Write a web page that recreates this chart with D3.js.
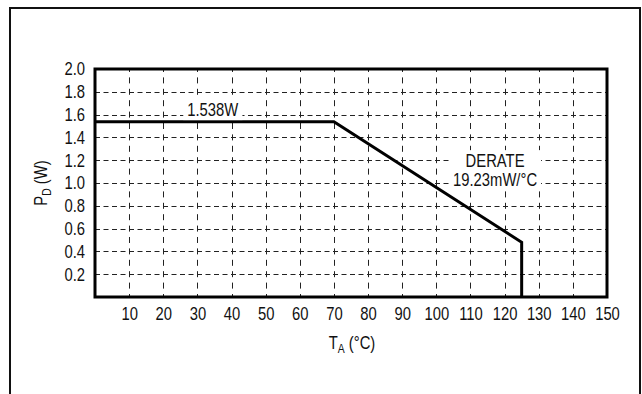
<!DOCTYPE html>
<html>
<head>
<meta charset="utf-8">
<script src="https://cdn.jsdelivr.net/npm/d3@7"></script>
<style>
  body { margin: 0; background: #fff; }
  svg text { font-family: "Liberation Sans", Arial, sans-serif; fill: #111; }
</style>
</head>
<body>
<script>
// Derating curve: power dissipation vs ambient temperature
const tempC = [0, 70, 125, 125];
const powerW = [1.538, 1.538, 0.480, 0];

// Tick labels
const xTicks = [10, 20, 30, 40, 50, 60, 70, 80, 90, 100, 110, 120, 130, 140, 150];
const yTicks = [0.2, 0.4, 0.6, 0.8, 1.0, 1.2, 1.4, 1.6, 1.8, 2.0];

const W = 642, H = 394;
const plot = { left: 95, right: 607, top: 69, bottom: 297 };
const fs = "18.5px";
const narrow = 0.8; // condensed look of the original typeface

const svg = d3.select("body").append("svg")
    .attr("width", W)
    .attr("height", H);

// outer frame (bottom edge runs off the picture)
svg.append("rect")
    .attr("x", 10).attr("y", 8)
    .attr("width", 630).attr("height", 400)
    .attr("fill", "none")
    .attr("stroke", "#111")
    .attr("stroke-width", 2);

const x = d3.scaleLinear().domain([0, 150]).range([plot.left, plot.right]);
const y = d3.scaleLinear().domain([0, 2]).range([plot.bottom, plot.top]);

// dashed grid
const grid = svg.append("g").attr("stroke", "#222").attr("stroke-width", 1);

grid.selectAll(".hgrid")
    .data(yTicks.filter(v => v < 2))
    .enter().append("line")
    .attr("class", "hgrid")
    .attr("x1", plot.left).attr("x2", plot.right)
    .attr("y1", d => Math.round(y(d)) + 0.5).attr("y2", d => Math.round(y(d)) + 0.5)
    .attr("stroke-dasharray", "5,3.5");

grid.selectAll(".vgrid")
    .data(xTicks.filter(v => v < 150))
    .enter().append("line")
    .attr("class", "vgrid")
    .attr("x1", d => Math.round(x(d)) + 0.5).attr("x2", d => Math.round(x(d)) + 0.5)
    .attr("y1", plot.bottom).attr("y2", plot.top)
    .attr("stroke-dasharray", "6,5.4")
    .attr("stroke-dashoffset", 3);

// curve
const line = d3.line()
    .x((d, i) => x(tempC[i]))
    .y(d => y(d));

svg.append("path")
    .attr("d", line(powerW))
    .attr("fill", "none")
    .attr("stroke", "#000")
    .attr("stroke-width", 3);

// plot frame
svg.append("rect")
    .attr("x", plot.left).attr("y", plot.top)
    .attr("width", plot.right - plot.left)
    .attr("height", plot.bottom - plot.top)
    .attr("fill", "none")
    .attr("stroke", "#000")
    .attr("stroke-width", 3);

// axes
const xAxis = svg.append("g")
    .attr("transform", `translate(0,${plot.bottom})`)
    .call(d3.axisBottom(x).tickValues(xTicks).tickSize(0).tickPadding(10));
xAxis.select(".domain").remove();
xAxis.selectAll("text")
    .style("font-size", fs)
    .attr("transform", `scale(${narrow},1)`);

const yAxis = svg.append("g")
    .attr("transform", `translate(${plot.left},0)`)
    .call(d3.axisLeft(y).tickValues(yTicks).tickSize(0).tickFormat(d3.format(".1f")));
yAxis.select(".domain").remove();
yAxis.selectAll("text")
    .style("font-size", fs)
    .attr("x", 0)
    .attr("transform", `translate(-10,0) scale(${narrow},1)`);

// text placed at (px,py) and squeezed horizontally
function narrowText(px, py, rotate) {
    return svg.append("text")
        .attr("transform", `translate(${px},${py})` + (rotate ? ` rotate(${rotate})` : "") +
            ` scale(${narrow},1)`)
        .attr("text-anchor", "middle")
        .style("font-size", fs);
}

// annotations with white boxes behind
function note(lines, cx, baseY, lineGap) {
    const g = svg.append("g").attr("transform", `translate(${cx},${baseY}) scale(${narrow},1)`);
    const t = g.append("text")
        .attr("text-anchor", "middle")
        .style("font-size", fs);
    lines.forEach((s, i) => {
        t.append("tspan").attr("x", 0).attr("y", i * lineGap).text(s);
    });
    const b = t.node().getBBox();
    g.insert("rect", "text")
        .attr("x", b.x - 5).attr("y", b.y)
        .attr("width", b.width + 10).attr("height", b.height)
        .attr("fill", "#fff");
}
note(["1.538W"], x(34.5), y(1.538) - 6, 0);
note(["DERATE", "19.23mW/°C"], x(117.2), y(1.143), 19.3);

// axis titles
const xt = narrowText(352, 349);
xt.append("tspan").text("T");
xt.append("tspan").attr("dy", 4).style("font-size", "13px").text("A");
xt.append("tspan").attr("dy", -4).text(" (°C)");

const yt = narrowText(47, (plot.top + plot.bottom) / 2, -90);
yt.append("tspan").text("P");
yt.append("tspan").attr("dy", 4).style("font-size", "13px").text("D");
yt.append("tspan").attr("dy", -4).text(" (W)");
</script>
</body>
</html>
